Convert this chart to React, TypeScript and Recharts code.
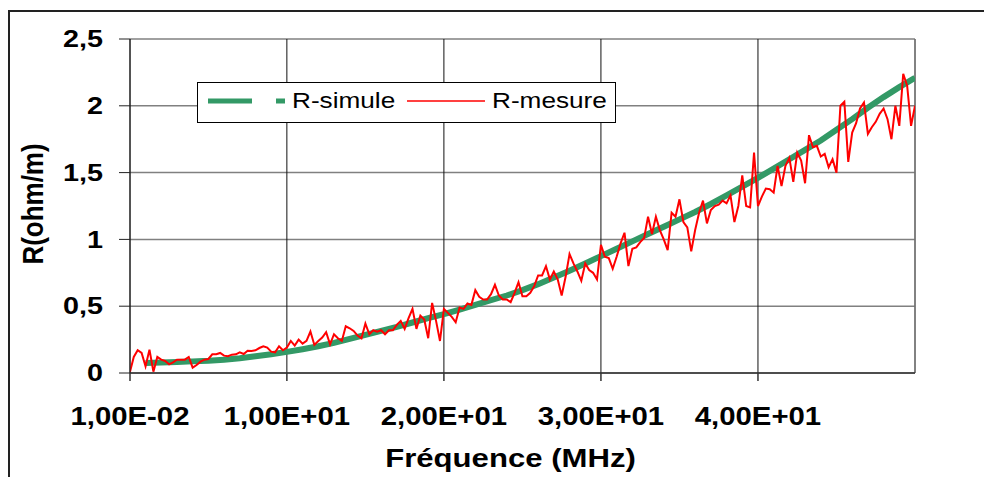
import React from 'react';
import {
  LineChart,
  Line,
  XAxis,
  YAxis,
  CartesianGrid,
  Legend,
  ReferenceLine,
} from 'recharts';

const FONT = '"Liberation Sans", Arial, Helvetica, sans-serif';

// Axis settings
const freqMin = 0.01;
const freqMax = 50;
const xTicks = [0.01, 10, 20, 30, 40];
const yTicks = [0, 0.5, 1, 1.5, 2, 2.5];

// Simulated resistance (ohm/m) at 1 MHz intervals
const simFreqMHz = [
  1, 2, 3, 4, 5, 6, 7, 8, 9, 10,
  11, 12, 13, 14, 15, 16, 17, 18, 19, 20,
  21, 22, 23, 24, 25, 26, 27, 28, 29, 30,
  31, 32, 33, 34, 35, 36, 37, 38, 39, 40,
  41, 42, 43, 44, 45, 46, 47, 48, 49, 50,
];
const simR = [
  0.075, 0.078, 0.082, 0.087, 0.092, 0.1, 0.11, 0.125, 0.14, 0.158,
  0.178, 0.2, 0.225, 0.255, 0.285, 0.315, 0.345, 0.378, 0.41, 0.44,
  0.475, 0.51, 0.545, 0.58, 0.62, 0.665, 0.715, 0.765, 0.82, 0.875,
  0.93, 0.985, 1.04, 1.095, 1.15, 1.205, 1.265, 1.33, 1.395, 1.46,
  1.53, 1.6, 1.67, 1.74, 1.82, 1.9, 1.985, 2.065, 2.14, 2.21,
];

// Measured resistance (ohm/m), sweep from 0.01 MHz then every 0.25 MHz
const sweepStepMHz = 0.25;
const mesR = [
  0.01, 0.12, 0.17, 0.15, 0.05, 0.175, 0.01, 0.12, 0.1, 0.09,
  0.065, 0.08, 0.1, 0.1, 0.1, 0.12, 0.04, 0.06, 0.085, 0.1,
  0.105, 0.14, 0.14, 0.15, 0.13, 0.125, 0.137, 0.14, 0.155, 0.142,
  0.167, 0.165, 0.17, 0.187, 0.2, 0.19, 0.16, 0.155, 0.2, 0.17,
  0.19, 0.24, 0.205, 0.25, 0.22, 0.24, 0.31, 0.21, 0.24, 0.265,
  0.305, 0.215, 0.29, 0.26, 0.24, 0.35, 0.335, 0.315, 0.28, 0.26,
  0.37, 0.29, 0.32, 0.31, 0.32, 0.29, 0.32, 0.32, 0.36, 0.39,
  0.33, 0.41, 0.48, 0.33, 0.43, 0.4, 0.26, 0.525, 0.39, 0.24,
  0.48, 0.45, 0.42, 0.38, 0.49, 0.48, 0.52, 0.51, 0.62, 0.57,
  0.55, 0.55, 0.59, 0.66, 0.58, 0.55, 0.55, 0.53, 0.6, 0.68,
  0.575, 0.575, 0.6, 0.65, 0.73, 0.73, 0.8, 0.7, 0.76, 0.7,
  0.58, 0.72, 0.89, 0.82, 0.76, 0.69, 0.82, 0.77, 0.75, 0.7,
  0.96, 0.87, 0.86, 0.78, 0.87, 0.97, 1.05, 0.8, 0.93, 0.94,
  0.98, 1.01, 1.17, 1.04, 1.17, 1.07, 1.0, 0.92, 1.2, 1.17,
  1.3, 1.13, 1.09, 0.91, 1.07, 1.2, 1.29, 1.12, 1.22, 1.25,
  1.26, 1.29, 1.27, 1.33, 1.13, 1.25, 1.48, 1.25, 1.24, 1.65,
  1.25, 1.32, 1.38, 1.375, 1.35, 1.55, 1.4, 1.55, 1.61, 1.43,
  1.65, 1.59, 1.42, 1.78, 1.69, 1.7, 1.62, 1.64, 1.54, 1.6,
  1.5, 2.0, 2.03, 1.58, 1.8, 1.87, 1.98, 2.025, 1.79, 1.84,
  1.88, 1.94, 1.98, 1.9, 1.75, 2.0, 1.85, 2.24, 2.15, 1.85,
  2.0,
];

const simData = simR.map((r, i) => ({ f: simFreqMHz[i], r }));
const mesData = mesR.map((r, i) => ({ f: i === 0 ? freqMin : i * sweepStepMHz, r }));

const SIM_NAME = 'R-simule';
const MES_NAME = 'R-mesure';
const SIM_COLOR = '#339966';
const MES_COLOR = '#ff0000';

// 1,00E+01 style labels
const fmtX = (v: number) => {
  const [m, e] = v.toExponential(2).split('e');
  const sign = e[0] === '-' ? '-' : '+';
  const digits = e.replace(/[+-]/, '').padStart(2, '0');
  return `${m.replace('.', ',')}E${sign}${digits}`;
};
const fmtY = (v: number) => String(v).replace('.', ',');

const XTick = (props: any) => {
  const { x, y, payload } = props;
  return (
    <text
      transform={`translate(${x},${y + 44}) scale(1.15,1)`}
      textAnchor="middle"
      fontFamily={FONT}
      fontWeight="bold"
      fontSize={25.5}
      fill="#000"
    >
      {fmtX(payload.value)}
    </text>
  );
};

const YTick = (props: any) => {
  const { x, y, payload } = props;
  return (
    <text
      transform={`translate(${x},${y + 8.2}) scale(1.25,1)`}
      textAnchor="end"
      fontFamily={FONT}
      fontWeight="bold"
      fontSize={23}
      fill="#000"
    >
      {fmtY(payload.value)}
    </text>
  );
};

const YTitle = (props: any) => {
  const { viewBox } = props;
  const cx = viewBox.x + 32;
  const cy = viewBox.y + viewBox.height / 2 - 2;
  return (
    <text
      transform={`translate(${cx},${cy}) rotate(-90) scale(1.04,1.17)`}
      y={9}
      textAnchor="middle"
      fontFamily={FONT}
      fontWeight="bold"
      fontSize={25}
      fill="#000"
    >
      R(ohm/m)
    </text>
  );
};

const XTitle = (props: any) => {
  const { viewBox } = props;
  const cx = viewBox.x + viewBox.width / 2 - 12;
  const by = viewBox.y + 94;
  return (
    <text
      transform={`translate(${cx},${by}) scale(1.22,1)`}
      textAnchor="middle"
      fontFamily={FONT}
      fontWeight="bold"
      fontSize={25.5}
      fill="#000"
    >
      Fréquence (MHz)
    </text>
  );
};

// Legend key shapes
const legendSymbols: Record<string, { x1: number; x2: number; width: number; dash?: string; textX: number }> = {
  [SIM_NAME]: { x1: 11, x2: 88, width: 5, dash: '44 24 9 400', textX: 95 },
  [MES_NAME]: { x1: 210, x2: 288, width: 1.5, textX: 295 },
};

const renderLegend = (props: any) => {
  const items = props.payload ?? [];
  return (
    <svg width={420} height={42} style={{ display: 'block' }}>
      <rect x={0.5} y={0.5} width={418} height={40} fill="#fff" stroke="#000" strokeWidth={1} />
      {items.map((item: any) => {
        const s = legendSymbols[item.value];
        if (!s) return null;
        return (
          <g key={item.value}>
            <line
              x1={s.x1}
              x2={s.x2}
              y1={19}
              y2={19}
              stroke={item.color}
              strokeWidth={s.width}
              strokeDasharray={s.dash}
            />
            <text
              transform={`translate(${s.textX},25.5) scale(1.19,1)`}
              fontFamily={FONT}
              fontSize={22}
              fill="#000"
            >
              {item.value}
            </text>
          </g>
        );
      })}
    </svg>
  );
};

// Outer chart-area border: only its top and left edges fall inside the page
const frameEdge = { position: 'absolute' as const, background: '#222' };

export default function App() {
  return (
    <>
      <style>{'html, body { margin: 0; padding: 0; overflow: hidden; background: #fff; }'}</style>
      <div
        style={{
          position: 'fixed',
          left: 0,
          top: 0,
          width: 984,
          height: 477,
          overflow: 'hidden',
          background: '#fff',
        }}
      >
        <div style={{ ...frameEdge, left: 8, top: 10, width: 976, height: 1.5 }} />
        <div style={{ ...frameEdge, left: 8, top: 10, width: 1.5, height: 467 }} />
        <LineChart
          width={984}
          height={477}
          margin={{ top: 39, right: 69, bottom: 0, left: 0 }}
          style={{ position: 'absolute', left: 0, top: 0 }}
        >
          <CartesianGrid vertical={false} stroke="#808080" strokeWidth={1.5} />
          <CartesianGrid horizontal={false} stroke="#111" strokeWidth={1} />
          <ReferenceLine x={freqMax} stroke="#808080" strokeWidth={1.5} />
          <XAxis
            type="number"
            dataKey="f"
            domain={[freqMin, freqMax]}
            ticks={xTicks}
            interval={0}
            allowDataOverflow
            tickSize={8}
            tickMargin={0}
            height={104}
            stroke="#333"
            strokeWidth={1.5}
            tick={<XTick />}
            label={<XTitle />}
          />
          <YAxis
            type="number"
            domain={[0, 2.5]}
            ticks={yTicks}
            interval={0}
            allowDataOverflow
            tickSize={11}
            tickMargin={16}
            width={130}
            stroke="#222"
            tick={<YTick />}
            label={<YTitle />}
          />
          <Legend
            content={renderLegend}
            layout="vertical"
            align="center"
            verticalAlign="middle"
            wrapperStyle={{ position: 'absolute', left: 197, top: 82, width: 420, height: 42 }}
          />
          <Line
            data={simData}
            dataKey="r"
            name={SIM_NAME}
            stroke={SIM_COLOR}
            strokeWidth={6}
            dot={false}
            activeDot={false}
            isAnimationActive={false}
          />
          <Line
            data={mesData}
            dataKey="r"
            name={MES_NAME}
            stroke={MES_COLOR}
            strokeWidth={2}
            dot={false}
            activeDot={false}
            isAnimationActive={false}
          />
        </LineChart>
      </div>
    </>
  );
}
